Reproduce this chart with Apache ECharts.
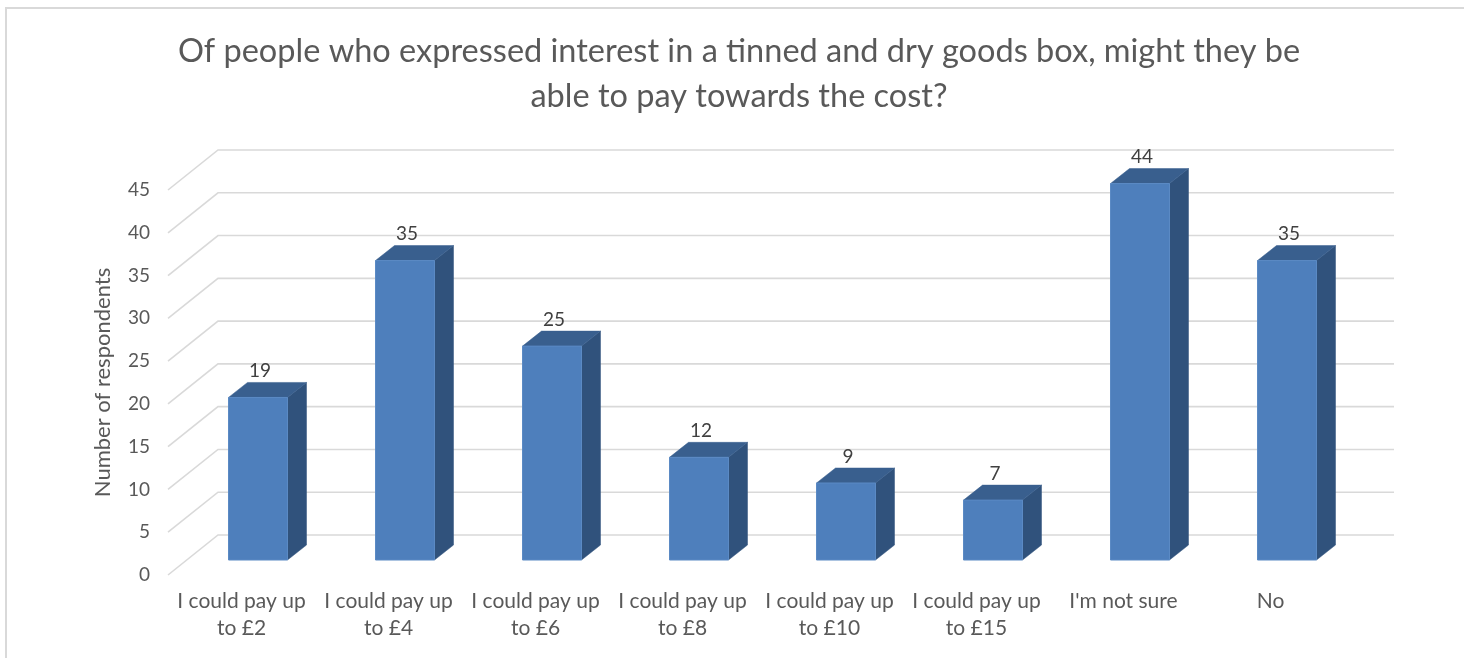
<!DOCTYPE html>
<html>
<head>
<meta charset="utf-8">
<script src="https://cdn.jsdelivr.net/npm/echarts@6/dist/echarts.min.js"></script>
<style>
  html, body { margin: 0; padding: 0; background: #fff; }
  #chart { width: 1464px; height: 658px; }
</style>
</head>
<body>
<div id="chart"></div>
<script>
// Survey answers and counts
const categories = [
  'I could pay up\nto £2',
  'I could pay up\nto £4',
  'I could pay up\nto £6',
  'I could pay up\nto £8',
  'I could pay up\nto £10',
  'I could pay up\nto £15',
  "I'm not sure",
  'No'
];
const respondents = [19, 35, 25, 12, 9, 7, 44, 35];
const yTicks = [0, 5, 10, 15, 20, 25, 30, 35, 40, 45];

const titleLines = [
  'Of people who expressed interest in a tinned and dry goods box, might they be',
  'able to pay towards the cost?'
];

// Pseudo-3D geometry: back wall offset from the front plane, bar placement and depth
const WALL_DX = 50, WALL_DY = 40;
const BAR_DX = 16.5, BAR_DY = 15;
const SIDE_DX = 19, SIDE_DY = 15;
const BAR_HALF = 29.5;

const FONT = 'Lato, "Open Sans", sans-serif';
const TEXT = '#595959';

const chart = echarts.init(document.getElementById('chart'), null, { renderer: 'canvas' });

chart.setOption({
  backgroundColor: '#ffffff',
  animation: false,
  graphic: [
    {
      type: 'rect',
      shape: { x: 6, y: 8, width: 1480, height: 680 },
      style: { fill: 'none', stroke: '#d9d9d9', lineWidth: 2 },
      silent: true
    },
    {
      type: 'text',
      x: 739,
      y: 29,
      style: {
        text: titleLines.join('\n'),
        font: '32.5px ' + FONT,
        fill: TEXT,
        textAlign: 'center',
        textVerticalAlign: 'top',
        lineHeight: 45
      }
    }
  ],
  grid: { left: 168, right: 120, top: 190, bottom: 83 },
  xAxis: {
    type: 'category',
    data: categories,
    axisLine: { show: false },
    axisTick: { show: false },
    splitLine: { show: false },
    axisLabel: {
      interval: 0,
      color: TEXT,
      fontFamily: FONT,
      fontSize: 21,
      lineHeight: 27,
      margin: 13
    }
  },
  yAxis: {
    type: 'value',
    min: 0,
    max: 45,
    interval: 5,
    name: 'Number of respondents',
    nameLocation: 'middle',
    nameGap: 54,
    nameTextStyle: { color: TEXT, fontFamily: FONT, fontSize: 22 },
    axisLine: { show: false },
    axisTick: { show: false },
    splitLine: { show: false },
    axisLabel: { color: TEXT, fontFamily: FONT, fontSize: 19, margin: 18 }
  },
  series: [
    {
      // floor-to-wall gridlines
      type: 'custom',
      silent: true,
      z: 1,
      data: yTicks.map(v => [0, v]),
      encode: { x: 0, y: 1 },
      renderItem: function (params, api) {
        const cs = params.coordSys;
        const y = api.coord([0, api.value(1)])[1];
        const x0 = cs.x, x1 = cs.x + cs.width;
        return {
          type: 'polyline',
          shape: { points: [[x0, y], [x0 + WALL_DX, y - WALL_DY], [x1 + WALL_DX, y - WALL_DY]] },
          style: { stroke: '#d9d9d9', lineWidth: 1.6, fill: null }
        };
      }
    },
    {
      // 3D-looking columns with value labels
      type: 'custom',
      z: 2,
      data: respondents.map((v, i) => [i, v]),
      encode: { x: 0, y: 1 },
      renderItem: function (params, api) {
        const idx = api.value(0);
        const val = api.value(1);
        const top = api.coord([idx, val]);
        const base = api.coord([idx, 0]);
        const xc = top[0] + BAR_DX;
        const xl = xc - BAR_HALF, xr = xc + BAR_HALF;
        const yt = top[1] - BAR_DY, yb = base[1] - BAR_DY;
        return {
          type: 'group',
          children: [
            {
              type: 'polygon',
              shape: { points: [[xr, yb], [xr, yt], [xr + SIDE_DX, yt - SIDE_DY], [xr + SIDE_DX, yb - SIDE_DY]] },
              style: { fill: '#30527c', stroke: '#30527c', lineWidth: 0.5 }
            },
            {
              type: 'polygon',
              shape: { points: [[xl, yt], [xr, yt], [xr + SIDE_DX, yt - SIDE_DY], [xl + SIDE_DX, yt - SIDE_DY]] },
              style: { fill: '#395f8e', stroke: '#395f8e', lineWidth: 0.5 }
            },
            {
              type: 'rect',
              shape: { x: xl, y: yt, width: xr - xl, height: yb - yt },
              style: { fill: '#4e7fbc', stroke: '#5b8ac4', lineWidth: 1 }
            },
            {
              type: 'text',
              style: {
                text: String(val),
                x: xc + 2,
                y: yt - SIDE_DY - 2,
                textAlign: 'center',
                textVerticalAlign: 'bottom',
                font: '19px ' + FONT,
                fill: '#404040'
              }
            }
          ]
        };
      }
    }
  ]
});
</script>
</body>
</html>
